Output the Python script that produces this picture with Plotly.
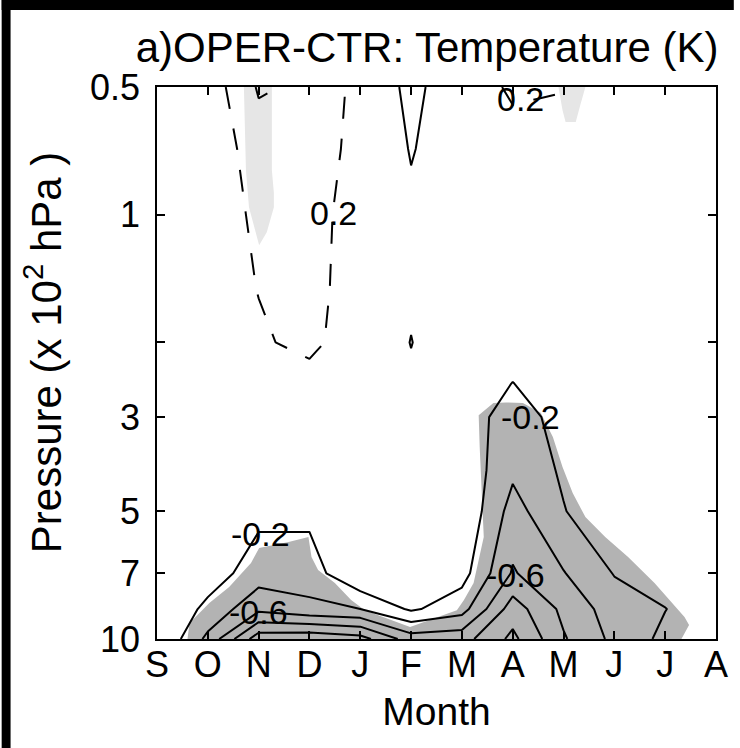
import math
import plotly.graph_objects as go

# ---- data -------------------------------------------------------------
months = ["S", "O", "N", "D", "J", "F", "M", "A", "M", "J", "J", "A"]
month_idx = list(range(len(months)))

# pressure levels (x 10^2 hPa)
pressure = [0.5, 0.7, 1, 1.5, 2, 2.5, 3, 4, 5, 7, 8.5, 10]

# OPER-CTR temperature difference (K), rows follow `pressure`, columns follow `months`
dT = [
    [0.00, 0.08, 0.42, 0.37, 0.13, -0.30, 0.05, 0.24, 0.21, 0.05, 0.00, 0.00],
    [0.00, 0.05, 0.31, 0.33, 0.12, -0.22, 0.00, 0.10, 0.10, 0.03, 0.00, 0.00],
    [0.00, 0.02, 0.26, 0.30, 0.08, -0.14, -0.02, 0.02, 0.02, 0.00, 0.00, 0.00],
    [0.00, 0.00, 0.21, 0.30, 0.05, -0.17, -0.05, 0.00, 0.00, 0.00, 0.00, 0.00],
    [0.00, 0.00, 0.15, 0.30, -0.04, -0.205, -0.05, -0.08, -0.03, 0.00, 0.00, 0.00],
    [0.00, 0.00, 0.05, 0.05, 0.00, -0.17, -0.03, -0.205, -0.05, 0.00, 0.00, 0.00],
    [0.00, -0.02, -0.05, -0.05, -0.02, -0.05, -0.05, -0.33, -0.10, -0.02, 0.00, 0.00],
    [0.00, -0.03, -0.10, -0.10, -0.03, -0.05, -0.05, -0.36, -0.17, -0.03, -0.02, 0.00],
    [0.00, -0.05, -0.15, -0.15, -0.05, -0.03, -0.02, -0.48, -0.21, -0.04, -0.03, -0.01],
    [0.00, -0.10, -0.30, -0.30, 0.00, -0.05, -0.12, -0.62, -0.41, -0.19, -0.10, -0.03],
    [0.00, -0.25, -0.55, -0.45, -0.40, -0.17, -0.32, -0.90, -0.55, -0.30, -0.205, -0.06],
    [0.02, -0.45, -1.12, -1.15, -1.08, -0.70, -0.72, -1.05, -0.62, -0.35, -0.15, -0.04],
]

# contour levels (K): negative drawn solid, positive dashed
neg_levels = [-1.0, -0.8, -0.6, -0.4, -0.2]
pos_levels = [0.2, 0.4]

# significance regions: (month index, pressure) outlines
sig_neg_month = [0.60, 0.64, 1.03, 1.42, 1.85, 2.01, 2.59, 2.98, 3.04, 3.17, 3.50, 3.82,
                 4.09, 4.98, 5.90, 6.04, 6.23, 6.43, 6.35, 6.33, 6.62, 6.87, 7.20, 7.55,
                 7.79, 7.98, 8.18, 8.43, 8.82, 9.27, 9.79, 10.38, 10.47, 10.38, 10.32]
sig_neg_p = [10, 9.17, 8.23, 7.54, 6.62, 6.10, 5.91, 5.75, 6.41, 6.88, 7.38, 8.09,
             8.55, 9.37, 8.55, 8.09, 7.38, 5.75, 3.53, 2.97, 2.78, 2.77, 2.78, 2.93,
             3.34, 3.93, 4.53, 5.16, 5.75, 6.41, 7.38, 8.88, 9.27, 9.68, 10]

sig_pos1_month = [1.71, 1.75, 1.81, 1.95, 2.01, 2.16, 2.30, 2.30, 2.26, 2.26]
sig_pos1_p = [0.5, 0.785, 0.96, 1.10, 1.18, 1.10, 0.96, 0.889, 0.785, 0.5]

sig_pos2_month = [7.90, 7.98, 8.04, 8.24, 8.33, 8.43]
sig_pos2_p = [0.5, 0.567, 0.605, 0.605, 0.551, 0.5]

# contour label placement: (level, month index, pressure)
label_level = [0.2, 0.2, -0.2, -0.2, -0.6, -0.6]
label_month = [3.47, 7.15, 2.04, 7.35, 1.99, 7.05]
label_p = [0.99, 0.534, 5.66, 3.0, 8.64, 7.07]

ytick_vals = [0.5, 1, 3, 5, 7, 10]
ytick_text = ["0.5", "1", "3", "5", "7", "10"]
ytick_minor = [2]

# ---- figure -------------------------------------------------------------
W, H = 740, 748
ML, MR, MT, MB = 157, 18, 87, 109
PW, PH = W - ML - MR, H - MT - MB
FONT = "Liberation Sans, Arial, Helvetica, sans-serif"
DARK = "#b3b3b3"
LIGHT = "#e6e6e6"
X_RANGE = [0, 11]
Y_RANGE = [1, math.log10(0.5)]

fig = go.Figure()

# shading lives on the base axes ...
for mx, py, col in [(sig_neg_month, sig_neg_p, DARK),
                    (sig_pos1_month, sig_pos1_p, LIGHT),
                    (sig_pos2_month, sig_pos2_p, LIGHT)]:
    fig.add_trace(go.Scatter(x=mx, y=py, mode="lines", fill="toself",
                             fillcolor=col, line=dict(width=0, color=col),
                             hoverinfo="skip", showlegend=False))


# ... and the contour lines on an overlaid pair of axes so they sit on top of it
def contour_line(level, dash):
    return go.Contour(
        x=month_idx, y=pressure, z=dT, xaxis="x2", yaxis="y2",
        autocontour=False,
        contours=dict(start=level, end=level, size=0.2, coloring="none",
                      showlabels=False),
        line=dict(color="black", width=2, dash=dash, smoothing=0),
        showscale=False, hoverinfo="skip",
    )


for lv in neg_levels:
    fig.add_trace(contour_line(lv, "solid"))
for lv in pos_levels:
    fig.add_trace(contour_line(lv, "22px,20px"))

for lv, mx, py in zip(label_level, label_month, label_p):
    fig.add_annotation(x=mx, y=math.log10(py), xref="x", yref="y", text=f"{lv:g}",
                       showarrow=False, font=dict(size=34, color="black", family=FONT),
                       xanchor="center", yanchor="middle")

# y-axis title
fig.add_annotation(x=(42 - ML) / PW, y=(H - MB - 352) / PH, xref="paper", yref="paper",
                   text="Pressure (x 10<sup>2</sup> hPa )", textangle=-90,
                   showarrow=False, font=dict(size=42, color="black", family=FONT),
                   xanchor="center", yanchor="middle")

# dark frame strips along the top and left edges of the page
fig.add_shape(type="rect", xref="paper", yref="paper", layer="above",
              x0=-ML / PW, x1=(9 - ML) / PW, y0=-MB / PH, y1=(H - MT) / PH,
              fillcolor="black", line=dict(width=0))
fig.add_shape(type="rect", xref="paper", yref="paper", layer="above",
              x0=-ML / PW, x1=(W - ML) / PW, y0=1 + (MT - 10) / PH, y1=1 + MT / PH,
              fillcolor="black", line=dict(width=0))

axis_style = dict(showgrid=False, zeroline=False, showline=True, linecolor="black",
                  linewidth=1.5, mirror="ticks", ticks="inside", ticklen=8,
                  tickwidth=1.5, tickcolor="black")

fig.update_layout(
    width=W, height=H,
    margin=dict(l=ML, r=MR, t=MT, b=MB, pad=0),
    paper_bgcolor="white", plot_bgcolor="white",
    font=dict(family=FONT, color="black"),
    showlegend=False,
    title=dict(text="a)OPER-CTR: Temperature (K)", font=dict(size=42),
               x=(430 - ML) / PW, xref="paper", xanchor="center",
               y=1 - 47 / H, yref="container", yanchor="middle"),
    xaxis=dict(range=X_RANGE, tickvals=month_idx, ticktext=months,
               tickfont=dict(size=36), ticklabelstandoff=-7,
               title=dict(text="Month", font=dict(size=39), standoff=14),
               **axis_style),
    yaxis=dict(type="log", range=Y_RANGE, tickvals=ytick_vals, ticktext=ytick_text,
               tickfont=dict(size=36), ticklabelstandoff=8,
               minor=dict(tickvals=ytick_minor, ticks="inside", ticklen=8,
                          tickwidth=1.5, tickcolor="black", showgrid=False),
               **axis_style),
    xaxis2=dict(range=X_RANGE, overlaying="x", visible=False),
    yaxis2=dict(type="log", range=Y_RANGE, overlaying="y", visible=False),
)

fig.write_html("out.html")
